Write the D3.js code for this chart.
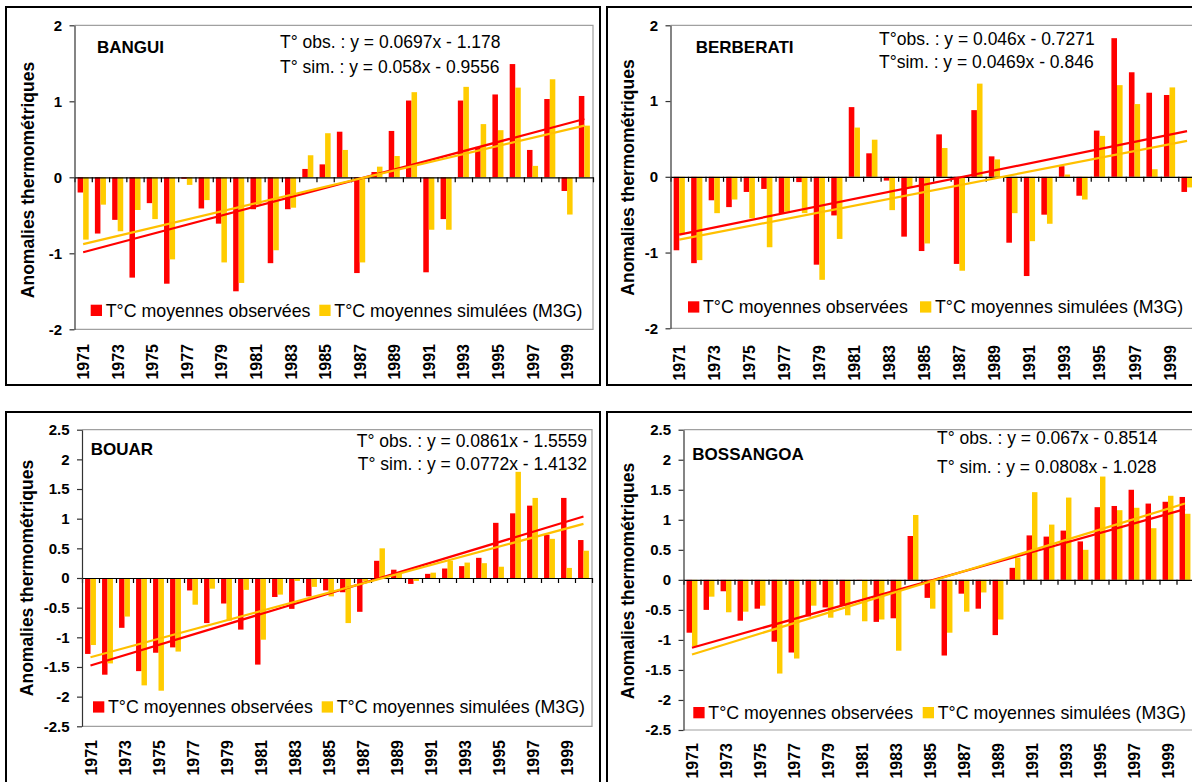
<!DOCTYPE html>
<html>
<head>
<meta charset="utf-8">
<script src="https://cdn.jsdelivr.net/npm/d3@7"></script>
<style>
  body { margin: 0; background: #fff; }
  svg { display: block; }
  text { font-family: Arial, "Liberation Sans", sans-serif; }
</style>
</head>
<body>
<div id="chart"></div>
<script>
// categories
const years = [1971, 1972, 1973, 1974, 1975, 1976, 1977, 1978, 1979, 1980,
	1981, 1982, 1983, 1984, 1985, 1986, 1987, 1988, 1989, 1990,
	1991, 1992, 1993, 1994, 1995, 1996, 1997, 1998, 1999, 2000];
const yearLabels = [1971, 1973, 1975, 1977, 1979, 1981, 1983, 1985, 1987, 1989, 1991, 1993, 1995, 1997, 1999];

const banguiObs = [-0.20, -0.74, -0.56, -1.32, -0.34, -1.40, -0.02, -0.41, -0.61, -1.50,
	-0.42, -1.13, -0.42, 0.11, 0.17, 0.60, -1.26, 0.07, 0.61, 1.01,
	-1.25, -0.55, 1.01, 0.40, 1.09, 1.49, 0.36, 1.03, -0.18, 1.07];
const banguiSim = [-0.82, -0.36, -0.71, -0.43, -0.55, -1.08, -0.10, -0.30, -1.12, -1.39,
	-0.36, -0.96, -0.40, 0.29, 0.58, 0.36, -1.12, 0.14, 0.28, 1.12,
	-0.69, -0.69, 1.19, 0.70, 0.62, 1.18, 0.15, 1.29, -0.49, 0.68];

const berberatiObs = [-0.97, -1.14, -0.31, -0.40, -0.20, -0.16, -0.48, -0.07, -1.16, -0.51,
	0.92, 0.31, -0.05, -0.79, -0.98, 0.56, -1.15, 0.88, 0.27, -0.87,
	-1.31, -0.50, 0.14, -0.25, 0.61, 1.83, 1.38, 1.11, 1.08, -0.20];
const berberatiSim = [-0.76, -1.10, -0.48, -0.30, -0.55, -0.93, -0.46, -0.48, -1.36, -0.82,
	0.65, 0.49, -0.44, -0.14, -0.88, 0.38, -1.24, 1.23, 0.23, -0.48,
	-0.85, -0.62, 0.03, -0.30, 0.54, 1.21, 0.96, 0.10, 1.18, -0.14];

const bouarObs = [-1.28, -1.63, -0.84, -1.57, -1.26, -1.17, -0.21, -0.76, -0.43, -0.87,
	-1.46, -0.32, -0.52, -0.31, -0.21, -0.24, -0.57, 0.29, 0.14, -0.10,
	0.07, 0.16, 0.20, 0.34, 0.93, 1.09, 1.22, 0.73, 1.35, 0.64];
const bouarSim = [-1.13, -1.44, -0.65, -1.81, -1.90, -1.24, -0.45, -0.18, -0.72, -0.20,
	-1.04, -0.28, -0.05, -0.15, -0.31, -0.76, -0.06, 0.50, 0.08, -0.05,
	0.09, 0.29, 0.26, 0.25, 0.19, 1.79, 1.35, 0.66, 0.17, 0.46];

const bossangoaObs = [-0.88, -0.50, -0.19, -0.68, -0.48, -1.03, -1.21, -0.61, -0.46, -0.43,
	-0.01, -0.70, -0.64, 0.73, -0.30, -1.26, -0.23, -0.48, -0.92, 0.20,
	0.74, 0.72, 0.82, 0.64, 1.21, 1.23, 1.50, 1.27, 1.30, 1.38];
const bossangoaSim = [-1.11, -0.28, -0.54, -0.53, -0.43, -1.56, -1.31, -0.43, -0.63, -0.59,
	-0.69, -0.66, -1.18, 1.08, -0.48, -0.88, -0.53, -0.21, -0.66, 0.37,
	1.46, 0.92, 1.37, 0.50, 1.72, 1.16, 1.20, 0.86, 1.40, 1.10];

// tick values of the two kinds of y axis
const ticksTop = [-2, -1, 0, 1, 2];
const ticksBottom = [-2.5, -2, -1.5, -1, -0.5, 0, 0.5, 1, 1.5, 2, 2.5];

// equation labels as printed
const banguiEq = ["T° obs. : y = 0.0697x - 1.178", "T° sim. : y = 0.058x - 0.9556"];
const berberatiEq = ["T°obs. : y = 0.046x - 0.7271", "T°sim. : y = 0.0469x - 0.846"];
const bouarEq = ["T° obs. : y = 0.0861x - 1.5559", "T° sim. : y = 0.0772x - 1.4132"];
const bossangoaEq = ["T° obs. : y = 0.067x - 0.8514", "T° sim. : y = 0.0808x - 1.028"];

const legendLabels = ["T°C moyennes observées", "T°C moyennes simulées (M3G)"];
const RED = "#ff0000", YELLOW = "#ffcc00", YELLOW_LINE = "#ffc000";

const svg = d3.select("#chart")
	.append("svg")
	.attr("width", 1192)
	.attr("height", 782);

const panels = [
	{
		name: "BANGUI", obs: banguiObs, sim: banguiSim, eq: banguiEq, ticks: ticksTop, domain: [-2, 2],
		frame: [6, 7, 594, 378], plot: { l: 74.5, r: 593, t: 25.3, b: 329.3 },
		title: [97, 53.3], eqPos: { x: 280, anchor: "start", y1: 48.3, y2: 73.3 },
		legend: { y: 316.7, rx: 90.7, yx: 319.3 }, yTitle: [33.5, 180], xLabelTop: 344
	},
	{
		name: "BERBERATI", obs: berberatiObs, sim: berberatiSim, eq: berberatiEq, ticks: ticksTop, domain: [-2, 2],
		frame: [607, 7, 620, 378], plot: { l: 670.5, r: 1195.8, t: 25.3, b: 328.3 },
		title: [695.7, 53.3], eqPos: { x: 879, anchor: "start", y1: 45, y2: 68 },
		legend: { y: 313.3, rx: 688, yx: 920 }, yTitle: [634, 177.5], xLabelTop: 345
	},
	{
		name: "BOUAR", obs: bouarObs, sim: bouarSim, eq: bouarEq, ticks: ticksBottom, domain: [-2.5, 2.5],
		frame: [6, 412, 594, 420], plot: { l: 82, r: 592, t: 429.7, b: 726.3 },
		title: [90.7, 455], eqPos: { x: 587, anchor: "end", y1: 446.5, y2: 470 },
		legend: { y: 713.3, rx: 93, yx: 321.7 }, yTitle: [33, 578], xLabelTop: 740
	},
	{
		name: "BOSSANGOA", obs: bossangoaObs, sim: bossangoaSim, eq: bossangoaEq, ticks: ticksBottom, domain: [-2.5, 2.5],
		frame: [607, 412, 620, 420], plot: { l: 683.5, r: 1193.5, t: 429.7, b: 730 },
		title: [692.3, 460], eqPos: { x: 937, anchor: "start", y1: 444.3, y2: 473.3 },
		legend: { y: 719, rx: 693.3, yx: 922.7 }, yTitle: [634, 581], xLabelTop: 743
	}
];

// least squares line over x = 1..n (like Excel's linear trendline)
function fit(vals) {
	const xs = vals.map((d, i) => i + 1);
	const mx = d3.mean(xs), my = d3.mean(vals);
	const sxy = d3.sum(xs, (xv, i) => (xv - mx) * (vals[i] - my));
	const sxx = d3.sum(xs, xv => (xv - mx) * (xv - mx));
	const slope = sxy / sxx;
	return { slope: slope, intercept: my - slope * mx };
}

function drawPanel(p) {
	const g = svg.append("g");
	const { l, r, t, b } = p.plot;

	const x = d3.scaleBand().domain(years).range([l, r]);
	const xEdge = d3.scaleLinear().domain([0, years.length]).range([l, r]);
	const y = d3.scaleLinear().domain(p.domain).range([b, t]);
	const bw = x.bandwidth() * 0.32;
	const cx = yr => x(yr) + x.bandwidth() / 2;

	// plot area outline
	g.append("path")
		.attr("d", `M${l},${t}H${r}V${b}H${l}`)
		.attr("fill", "none")
		.attr("stroke", "#a0a0a0")
		.attr("stroke-width", 1.2);

	// bars
	g.append("g").selectAll("rect")
		.data(p.obs)
		.join("rect")
		.attr("x", (d, i) => cx(years[i]) - bw)
		.attr("y", d => y(Math.max(0, d)))
		.attr("width", bw)
		.attr("height", d => Math.abs(y(d) - y(0)))
		.attr("fill", RED);

	g.append("g").selectAll("rect")
		.data(p.sim)
		.join("rect")
		.attr("x", (d, i) => cx(years[i]))
		.attr("y", d => y(Math.max(0, d)))
		.attr("width", bw)
		.attr("height", d => Math.abs(y(d) - y(0)))
		.attr("fill", YELLOW);

	// zero axis, ticks between categories
	const xAxis = g.append("g")
		.attr("transform", `translate(0,${y(0)})`)
		.call(d3.axisBottom(xEdge).tickValues(d3.range(years.length + 1)).tickFormat("").tickSize(5).tickSizeOuter(0));
	xAxis.selectAll("path,line").attr("stroke", "#000").attr("stroke-width", 1.2);

	// trend lines
	[[p.obs, RED], [p.sim, YELLOW_LINE]].forEach(([vals, col]) => {
		const f = fit(vals);
		g.append("line")
			.attr("x1", cx(years[0]))
			.attr("x2", cx(years[years.length - 1]))
			.attr("y1", y(f.intercept + f.slope * 1))
			.attr("y2", y(f.intercept + f.slope * years.length))
			.attr("stroke", col)
			.attr("stroke-width", 2.2);
	});

	// y axis
	const yAxis = g.append("g")
		.attr("transform", `translate(${l},0)`)
		.call(d3.axisLeft(y).tickValues(p.ticks).tickSize(5).tickSizeOuter(0).tickPadding(7.5).tickFormat(d => String(d)));
	yAxis.selectAll("path,line").attr("stroke", "#333").attr("stroke-width", 1.2);
	yAxis.selectAll("text")
		.attr("font-family", "Arial, 'Liberation Sans', sans-serif")
		.attr("font-size", 15)
		.attr("font-weight", "bold")
		.attr("fill", "#000");

	// year labels, rotated
	g.append("g").selectAll("text")
		.data(yearLabels)
		.join("text")
		.attr("transform", d => `translate(${cx(d) + 6},${p.xLabelTop}) rotate(-90)`)
		.attr("text-anchor", "end")
		.attr("font-size", 16)
		.attr("font-weight", "bold")
		.text(d => d);

	// y axis title
	g.append("text")
		.attr("transform", `translate(${p.yTitle[0]},${p.yTitle[1]}) rotate(-90)`)
		.attr("text-anchor", "middle")
		.attr("font-size", 17.5)
		.attr("font-weight", "bold")
		.text("Anomalies thermométriques");

	// station name
	g.append("text")
		.attr("x", p.title[0])
		.attr("y", p.title[1])
		.attr("font-size", 17)
		.attr("font-weight", "bold")
		.text(p.name);

	// regression equations
	p.eq.forEach((s, i) => {
		g.append("text")
			.attr("x", p.eqPos.x)
			.attr("y", i === 0 ? p.eqPos.y1 : p.eqPos.y2)
			.attr("text-anchor", p.eqPos.anchor)
			.attr("font-size", 17.5)
			.text(s);
	});

	// legend
	[[p.legend.rx, RED, legendLabels[0]], [p.legend.yx, YELLOW, legendLabels[1]]].forEach(([lx, col, label]) => {
		g.append("rect")
			.attr("x", lx)
			.attr("y", p.legend.y - 12)
			.attr("width", 11.3)
			.attr("height", 11.3)
			.attr("fill", col);
		g.append("text")
			.attr("x", lx + 15)
			.attr("y", p.legend.y)
			.attr("font-size", 17.8)
			.text(label);
	});

	// chart frame
	g.append("rect")
		.attr("x", p.frame[0])
		.attr("y", p.frame[1])
		.attr("width", p.frame[2])
		.attr("height", p.frame[3])
		.attr("fill", "none")
		.attr("stroke", "#000")
		.attr("stroke-width", 2);
}

panels.forEach(drawPanel);
</script>
</body>
</html>
